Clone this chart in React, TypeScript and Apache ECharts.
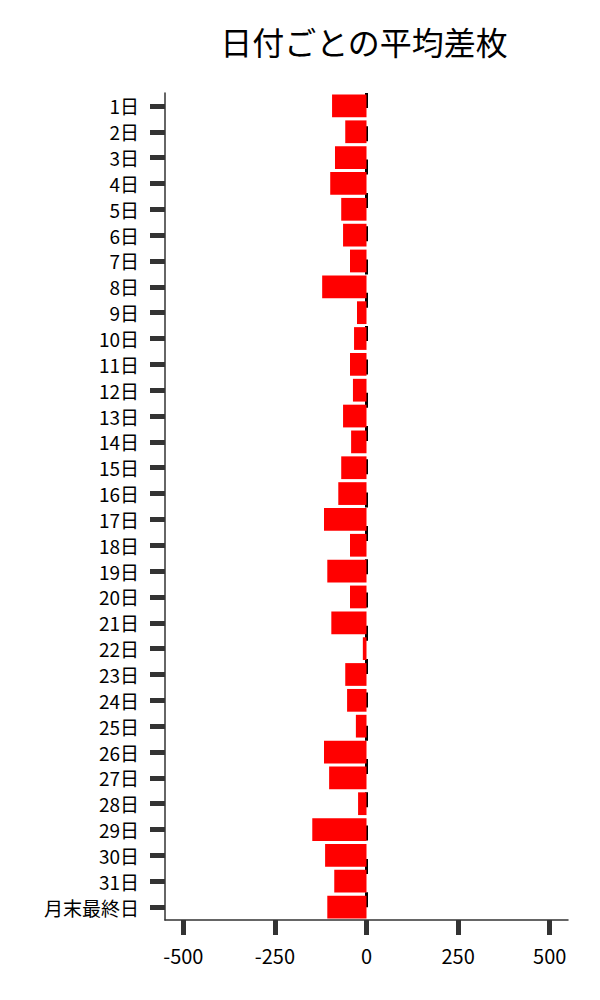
import { useEffect, useRef } from 'react'
import * as echarts from 'echarts'

const DAYS = [
  '1日', '2日', '3日', '4日', '5日', '6日', '7日', '8日', '9日', '10日',
  '11日', '12日', '13日', '14日', '15日', '16日', '17日', '18日', '19日', '20日',
  '21日', '22日', '23日', '24日', '25日', '26日', '27日', '28日', '29日', '30日',
  '31日', '月末最終日',
]

const AVG_DIFF = [
  -94, -58, -86, -99, -69, -64, -45, -121, -26, -34,
  -45, -37, -64, -42, -69, -77, -116, -45, -107, -45,
  -96, -10, -58, -53, -29, -116, -102, -23, -148, -113,
  -88, -107,
]

const X_TICKS = [-500, -250, 0, 250, 500]

const TITLE = '日付ごとの平均差枚'

const FONT = '"Noto Sans CJK JP", "Noto Sans", sans-serif'
const AXIS_COLOR = '#333333'

export default function App() {
  const chartRef = useRef<HTMLDivElement>(null)

  useEffect(() => {
    if (!chartRef.current) return
    const chart = echarts.init(chartRef.current, null, { renderer: 'svg' })

    const option: echarts.EChartsOption = {
      animation: false,
      backgroundColor: '#ffffff',
      title: {
        text: TITLE,
        left: 359,
        top: 20,
        textAlign: 'center',
        textStyle: {
          fontFamily: FONT,
          fontSize: 32,
          fontWeight: 'normal',
          color: '#000000',
        },
      },
      grid: { left: 165, right: 32, top: 93, bottom: 80 },
      xAxis: {
        type: 'value',
        min: -550,
        max: 550,
        splitLine: { show: false },
        axisLine: { show: true, lineStyle: { color: AXIS_COLOR, width: 1.5 } },
        axisTick: {
          show: true,
          length: 15,
          customValues: X_TICKS,
          lineStyle: { color: AXIS_COLOR, width: 5 },
        },
        axisLabel: {
          customValues: X_TICKS,
          margin: 25,
          fontFamily: FONT,
          fontSize: 20,
          color: '#000000',
        },
      },
      yAxis: {
        type: 'category',
        data: DAYS,
        inverse: true,
        axisLine: { show: true, onZero: false, lineStyle: { color: AXIS_COLOR, width: 1.5 } },
        axisTick: {
          show: true,
          alignWithLabel: true,
          interval: 0,
          length: 15,
          lineStyle: { color: AXIS_COLOR, width: 5 },
        },
        axisLabel: {
          interval: 0,
          margin: 26,
          fontFamily: FONT,
          fontSize: 19,
          lineHeight: 21,
          color: '#000000',
        },
      },
      series: [
        {
          type: 'line',
          data: [],
          z: 1,
          markLine: {
            silent: true,
            z: 1,
            symbol: ['none', 'none'],
            label: { show: false },
            lineStyle: { color: '#000000', width: 3, type: [15, 18.3], dashOffset: 0 },
            data: [{ xAxis: 0 }],
          },
        },
        {
          type: 'bar',
          data: AVG_DIFF,
          z: 3,
          barCategoryGap: '12%',
          itemStyle: { color: '#ff0000' },
        },
      ],
    }

    chart.setOption(option)
    return () => chart.dispose()
  }, [])

  return (
    <div
      ref={chartRef}
      style={{ position: 'fixed', left: 0, top: 0, width: '600px', height: '1000px' }}
    />
  )
}
